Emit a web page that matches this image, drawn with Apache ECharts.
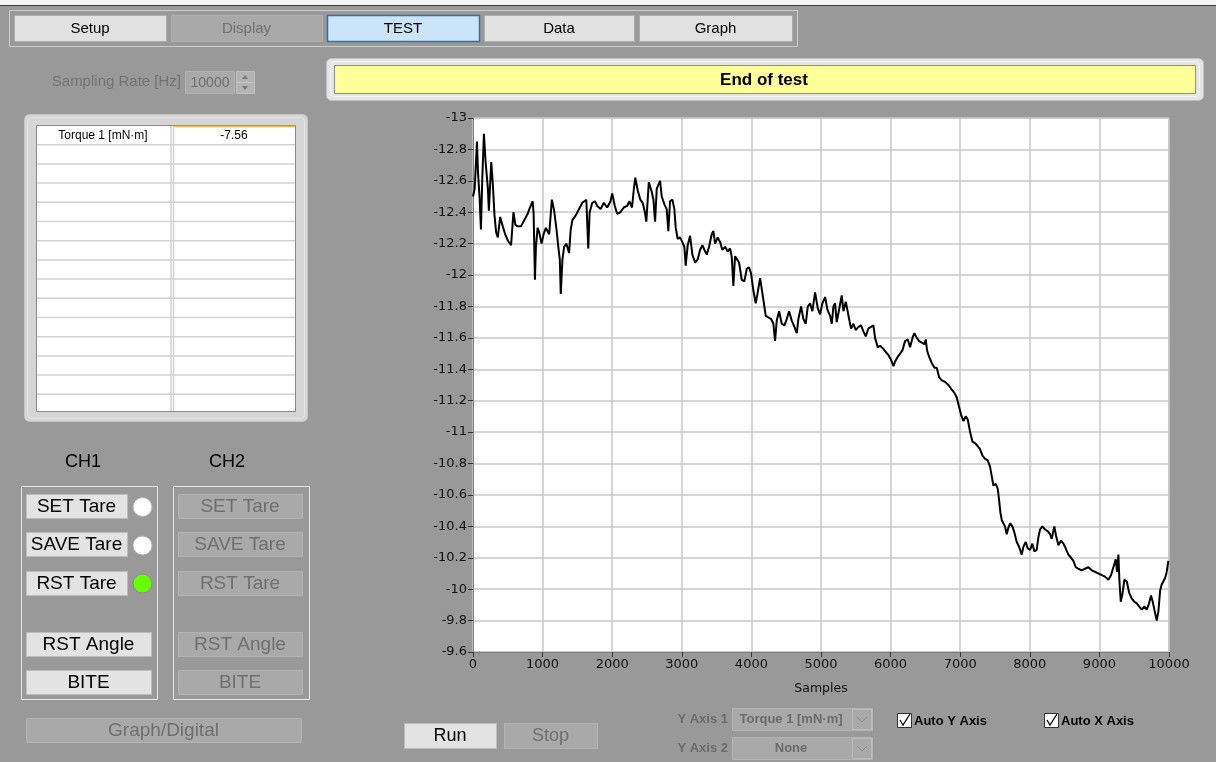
<!DOCTYPE html>
<html>
<head>
<meta charset="utf-8">
<script src="https://cdn.jsdelivr.net/npm/echarts@6/dist/echarts.min.js"></script>
<style>
  html, body { margin: 0; padding: 0; background: #999999; }
  #main { width: 1216px; height: 762px; }
</style>
</head>
<body>
<div id="main"></div>
<script>
// Torque 1 trace: sample index and torque [mN·m]
const sampleIdx = [
  0, 24, 57, 71, 95, 114, 133, 157, 181, 214, 228, 262, 286, 309, 333, 357, 390, 428, 462, 500,
  547, 581, 609, 643, 690, 738, 785, 818, 857, 871, 890, 904, 928, 952, 985, 1014, 1047, 1095, 1133, 1166,
  1200, 1228, 1247, 1261, 1285, 1309, 1342, 1380, 1404, 1428, 1476, 1523, 1571, 1628, 1656, 1676, 1714, 1752, 1785, 1833,
  1880, 1928, 1976, 2000, 2038, 2071, 2118, 2166, 2214, 2247, 2285, 2309, 2332, 2366, 2404, 2437, 2470, 2490, 2526, 2568,
  2592, 2616, 2640, 2688, 2712, 2750, 2783, 2807, 2831, 2865, 2893, 2913, 2941, 2975, 3008, 3037, 3056, 3085, 3119, 3152,
  3190, 3229, 3262, 3296, 3325, 3358, 3392, 3430, 3454, 3478, 3516, 3550, 3583, 3622, 3660, 3693, 3717, 3741, 3765, 3789,
  3823, 3861, 3899, 3933, 3966, 3995, 4029, 4062, 4091, 4125, 4149, 4173, 4206, 4244, 4283, 4316, 4340, 4364, 4398, 4436,
  4474, 4508, 4541, 4580, 4618, 4652, 4675, 4714, 4747, 4781, 4810, 4843, 4876, 4915, 4953, 4987, 5020, 5059, 5092, 5131,
  5155, 5178, 5202, 5226, 5260, 5298, 5322, 5356, 5380, 5404, 5432, 5466, 5499, 5538, 5576, 5610, 5643, 5681, 5720, 5753,
  5777, 5815, 5849, 5897, 5930, 5969, 6007, 6041, 6065, 6103, 6136, 6170, 6208, 6247, 6280, 6314, 6342, 6376, 6410, 6448,
  6486, 6505, 6524, 6553, 6591, 6630, 6663, 6697, 6735, 6783, 6831, 6879, 6917, 6951, 6984, 7013, 7047, 7080, 7109, 7142,
  7176, 7214, 7253, 7286, 7320, 7358, 7395, 7429, 7453, 7477, 7510, 7539, 7558, 7577, 7597, 7620, 7644, 7668, 7692, 7716,
  7750, 7779, 7812, 7846, 7884, 7908, 7941, 7970, 8004, 8037, 8066, 8099, 8123, 8147, 8181, 8219, 8257, 8291, 8315, 8353,
  8377, 8411, 8449, 8483, 8516, 8555, 8593, 8626, 8660, 8698, 8746, 8794, 8842, 8890, 8938, 8986, 9034, 9081, 9129, 9168,
  9201, 9235, 9254, 9273, 9287, 9307, 9331, 9359, 9393, 9426, 9465, 9503, 9537, 9570, 9608, 9647, 9680, 9714, 9742, 9766,
  9790, 9824, 9848, 9872, 9895, 9919, 9943, 9967, 9991
];
const torqueVals = [
  -12.50, -12.55, -12.85, -12.66, -12.49, -12.29, -12.61, -12.90, -12.72, -12.55, -12.41, -12.72, -12.57, -12.38, -12.27, -12.24, -12.37, -12.31, -12.26, -12.22,
  -12.19, -12.40, -12.32, -12.31, -12.31, -12.35, -12.39, -12.43, -12.47, -12.39, -11.97, -12.18, -12.30, -12.27, -12.20, -12.26, -12.30, -12.26, -12.48, -12.41,
  -12.29, -12.17, -12.10, -11.88, -12.10, -12.18, -12.20, -12.14, -12.29, -12.35, -12.38, -12.42, -12.46, -12.48, -12.17, -12.40, -12.46, -12.47, -12.44, -12.42,
  -12.46, -12.43, -12.47, -12.52, -12.44, -12.39, -12.40, -12.43, -12.44, -12.47, -12.43, -12.54, -12.62, -12.54, -12.48, -12.46, -12.40, -12.34, -12.59, -12.53,
  -12.48, -12.34, -12.55, -12.60, -12.50, -12.45, -12.42, -12.28, -12.47, -12.48, -12.42, -12.30, -12.23, -12.24, -12.21, -12.18, -12.06, -12.19, -12.25, -12.13,
  -12.08, -12.10, -12.16, -12.19, -12.16, -12.13, -12.18, -12.26, -12.28, -12.20, -12.24, -12.21, -12.16, -12.18, -12.15, -12.17, -12.12, -11.93, -12.12, -12.13,
  -12.08, -11.97, -11.96, -12.04, -12.05, -12.01, -11.90, -11.82, -11.89, -11.98, -11.91, -11.84, -11.74, -11.73, -11.72, -11.69, -11.58, -11.71, -11.77, -11.69,
  -11.68, -11.72, -11.77, -11.71, -11.67, -11.63, -11.72, -11.80, -11.72, -11.69, -11.80, -11.82, -11.77, -11.89, -11.79, -11.75, -11.82, -11.86, -11.78, -11.74,
  -11.69, -11.80, -11.82, -11.70, -11.78, -11.87, -11.77, -11.83, -11.84, -11.72, -11.66, -11.69, -11.65, -11.67, -11.68, -11.64, -11.61, -11.66, -11.67, -11.68,
  -11.60, -11.54, -11.55, -11.53, -11.51, -11.49, -11.46, -11.42, -11.45, -11.48, -11.50, -11.52, -11.58, -11.59, -11.54, -11.60, -11.63, -11.60, -11.58, -11.57,
  -11.56, -11.59, -11.52, -11.48, -11.44, -11.41, -11.41, -11.35, -11.33, -11.32, -11.30, -11.27, -11.25, -11.22, -11.16, -11.11, -11.07, -11.10, -11.08, -11.00,
  -10.94, -10.93, -10.91, -10.89, -10.85, -10.83, -10.82, -10.78, -10.72, -10.66, -10.67, -10.64, -10.57, -10.49, -10.44, -10.42, -10.40, -10.35, -10.39, -10.42,
  -10.40, -10.36, -10.30, -10.27, -10.22, -10.27, -10.30, -10.26, -10.25, -10.29, -10.24, -10.25, -10.33, -10.38, -10.40, -10.38, -10.37, -10.35, -10.32, -10.40,
  -10.34, -10.28, -10.31, -10.29, -10.26, -10.22, -10.20, -10.18, -10.14, -10.13, -10.12, -10.13, -10.14, -10.12, -10.11, -10.10, -10.09, -10.08, -10.06, -10.09,
  -10.14, -10.19, -10.11, -10.22, -10.06, -9.92, -9.97, -10.06, -10.05, -9.98, -9.94, -9.92, -9.91, -9.89, -9.87, -9.89, -9.87, -9.91, -9.96, -9.92,
  -9.87, -9.80, -9.86, -9.99, -10.03, -10.02, -10.07, -10.11, -10.18
];

// Axis ranges and tick steps
const xRange = [0, 10000];
const xStep = 1000;
const yRange = [-13, -9.6];
const yStep = 0.2;

// Tab bar, status and panel captions
const tabNames = ['Setup', 'Display', 'TEST', 'Data', 'Graph'];
const statusText = 'End of test';
const channelNames = ['CH1', 'CH2'];
const tareButtons = ['SET Tare', 'SAVE Tare', 'RST Tare'];
const tableRows = [['Torque 1 [mN·m]', '-7.56']];

const UI_FONT = "'Liberation Sans', Arial, sans-serif";
const NARROW = "'Liberation Sans Narrow', 'Liberation Sans', Arial, sans-serif";

const g = [];
function rect(x, y, w, h, fill, stroke, lw, r) {
  g.push({ type: 'rect', silent: true, shape: { x: x, y: y, width: w, height: h, r: r || 0 },
    style: { fill: fill || 'none', stroke: stroke || 'none', lineWidth: lw || 1 } });
}
function text(t, x, y, font, fill, align) {
  g.push({ type: 'text', silent: true, style: { text: t, x: x, y: y, font: font, fill: fill,
    textAlign: align || 'center', textVerticalAlign: 'middle' } });
}
function line(pts, stroke, lw) {
  g.push({ type: 'polyline', silent: true, shape: { points: pts },
    style: { stroke: stroke, lineWidth: lw || 1, fill: 'none' } });
}
function button(x, y, w, h, label, enabled, font) {
  if (enabled) {
    rect(x + 0.5, y + 0.5, w, h, '#e3e3e3', '#bdbdbd', 1);
    text(label, x + w / 2, y + h / 2 + 1, font, '#000');
  } else {
    rect(x + 0.5, y + 0.5, w, h, '#a9a9a9', '#b3b3b3', 1);
    text(label, x + w / 2, y + h / 2 + 1, font, '#6f6f6f');
  }
}

// window top edge
rect(0, 0, 1216, 5, '#f4f4f4');
line([[0, 5.5], [1216, 5.5]], '#2b3f66', 1);

// tab strip
rect(9.5, 10.5, 788, 36, 'none', '#cdcdcd', 1);
const tabX = [14, 171, 327, 484, 639];
const tabW = [152, 151, 152, 150, 153];
tabNames.forEach(function (name, i) {
  const x = tabX[i], w = tabW[i];
  if (name === 'Display') {
    rect(x + 0.5, 15.5, w, 26, '#a9a9a9', '#b0b0b0', 1);
    text(name, x + w / 2, 29, '15px ' + NARROW, '#707070');
  } else if (name === 'TEST') {
    rect(x + 0.5, 15.5, w, 26, '#cce4f7', '#2f6fae', 1.5);
    text(name, x + w / 2, 29, '15px ' + NARROW, '#000');
  } else {
    rect(x + 0.5, 15.5, w, 26, '#e1e1e1', '#adadad', 1);
    text(name, x + w / 2, 29, '15px ' + NARROW, '#000');
  }
});

// sampling rate control (disabled)
text('Sampling Rate [Hz]', 181, 82, '15px ' + NARROW, '#727272', 'right');
rect(185.5, 71.5, 49, 22, '#a9a9a9', '#b3b3b3', 1);
text('10000', 210, 83, '14px ' + NARROW, '#6e6e6e');
rect(236.5, 71.5, 18, 22, '#b4b4b4', '#c0c0c0', 1);
line([[237, 82.5], [254, 82.5]], '#c6c6c6', 1);
g.push({ type: 'polygon', silent: true, shape: { points: [[242, 79], [248, 79], [245, 75]] }, style: { fill: '#777' } });
g.push({ type: 'polygon', silent: true, shape: { points: [[242, 86], [248, 86], [245, 90]] }, style: { fill: '#777' } });

// status indicator
rect(326.5, 58.5, 877, 42, '#e4e4e4', '#c2c2c2', 1, 5);
rect(330.5, 61.5, 869, 35, 'none', '#f7f7f7', 1, 4);
rect(334.5, 65.5, 861, 28, '#ffff99', '#8e8e8e', 1);
text(statusText, 764, 80, 'bold 17px ' + NARROW, '#000');

// readout table
rect(24.5, 114.5, 283, 307, '#d5d5d5', '#c6c6c6', 1, 5);
rect(27.5, 117.5, 277, 301, 'none', '#e6e6e6', 1, 4);
rect(36.5, 125.5, 259, 286, '#ffffff', '#8a8a8a', 1);
for (let k = 1; k <= 14; k++) {
  const y = 125.5 + 19.2 * k;
  line([[37, y], [295, y]], '#d2d2d2', 1.5);
}
line([[171, 126], [171, 411]], '#d2d2d2', 1.5);
line([[173.5, 126], [173.5, 411]], '#d2d2d2', 1.5);
line([[174, 126.5], [295, 126.5]], '#f2c04a', 1.5);
tableRows.forEach(function (row, i) {
  const y = 135.5 + 19.2 * i;
  text(row[0], 103, y, '12px ' + UI_FONT, '#000');
  text(row[1], 234, y, '12px ' + UI_FONT, '#000');
});

// tare / angle controls per channel
text(channelNames[0], 83, 462, '18px ' + UI_FONT, '#000');
text(channelNames[1], 227, 462, '18px ' + UI_FONT, '#000');
rect(21.5, 486.5, 136, 213, 'none', '#e8e8e8', 1);
rect(173.5, 486.5, 136, 213, 'none', '#e8e8e8', 1);
const btnFont = '19px ' + UI_FONT;
const tareY = [494, 532, 571];
tareButtons.forEach(function (label, i) {
  button(26, tareY[i], 101, 24, label, true, btnFont);
  button(178, tareY[i], 124, 24, label, false, btnFont);
});
g.push({ type: 'circle', silent: true, shape: { cx: 142.5, cy: 507, r: 9.5 }, style: { fill: '#ffffff', stroke: '#b4b4b4', lineWidth: 1 } });
g.push({ type: 'circle', silent: true, shape: { cx: 142.5, cy: 545.5, r: 9.5 }, style: { fill: '#ffffff', stroke: '#b4b4b4', lineWidth: 1 } });
g.push({ type: 'circle', silent: true, shape: { cx: 142.5, cy: 583.5, r: 9.5 }, style: { fill: '#66ff00', stroke: '#8c8c8c', lineWidth: 1 } });
button(26, 632, 125, 24, 'RST Angle', true, btnFont);
button(178, 632, 124, 24, 'RST Angle', false, btnFont);
button(26, 670, 125, 24, 'BITE', true, btnFont);
button(178, 670, 124, 24, 'BITE', false, btnFont);
button(26, 718, 275, 24, 'Graph/Digital', false, btnFont);

// run / stop
button(404, 723, 92, 25, 'Run', true, '18px ' + NARROW);
button(504, 723, 93, 25, 'Stop', false, '18px ' + NARROW);

// plot source selectors (disabled)
function dropdown(y, label, value) {
  text(label, 728, y + 11, 'bold 13px ' + NARROW, '#6b6b6b', 'right');
  rect(732.5, y + 0.5, 140, 22, '#a9a9a9', '#b5b5b5', 1);
  text(value, 791, y + 11.5, 'bold 13px ' + NARROW, '#6b6b6b');
  rect(852.5, y + 1.5, 19, 20, 'none', '#bcbcbc', 1);
  line([[857, y + 9], [862, y + 14], [867, y + 9]], '#8d8d8d', 1);
}
dropdown(708, 'Y Axis 1', 'Torque 1 [mN·m]');
dropdown(737, 'Y Axis 2', 'None');

// auto-scale checkboxes
function checkbox(x, label) {
  rect(x + 0.5, 713.5, 14, 14, '#ffffff', '#333333', 1);
  line([[x + 3, 720], [x + 6, 725], [x + 13, 714]], '#000', 1.3);
  text(label, x + 17, 721, 'bold 13px ' + NARROW, '#000', 'left');
}
checkbox(897, 'Auto Y Axis');
checkbox(1044, 'Auto X Axis');

const chart = echarts.init(document.getElementById('main'), null, { renderer: 'canvas' });
chart.setOption({
  animation: false,
  backgroundColor: '#999999',
  grid: {
    left: 473, top: 118, width: 696, height: 534,
    show: true, backgroundColor: '#ffffff', borderColor: '#a8a8a8', borderWidth: 1
  },
  xAxis: {
    type: 'value', min: xRange[0], max: xRange[1], interval: xStep,
    name: 'Samples', nameLocation: 'middle', nameGap: 30,
    nameTextStyle: { color: '#111', fontFamily: 'DejaVu Sans', fontSize: 12.5 },
    axisLine: { show: true, lineStyle: { color: '#7d7d7d', width: 1 } },
    axisTick: { show: true, length: 5, lineStyle: { color: '#333', width: 1 } },
    axisLabel: { color: '#111', fontFamily: 'DejaVu Sans', fontSize: 13, margin: 6,
      formatter: function (v) { return String(Math.round(v)); } },
    splitLine: { show: true, lineStyle: { color: '#c8c8c8', width: 1.5 } }
  },
  yAxis: {
    type: 'value', min: yRange[0], max: yRange[1], interval: yStep, inverse: true,
    axisLine: { show: true, lineStyle: { color: '#7d7d7d', width: 1 } },
    axisTick: { show: true, length: 5, lineStyle: { color: '#333', width: 1 } },
    axisLabel: { color: '#111', fontFamily: 'DejaVu Sans', fontSize: 13, margin: 6,
      formatter: function (v) { return String(Math.round(v * 10) / 10); } },
    splitLine: { show: true, lineStyle: { color: '#c8c8c8', width: 1.5 } }
  },
  series: [{
    type: 'line',
    data: sampleIdx.map(function (x, i) { return [x, torqueVals[i]]; }),
    showSymbol: false,
    lineStyle: { color: '#000', width: 2 },
    z: 5
  }],
  graphic: { elements: g }
});
</script>
</body>
</html>
